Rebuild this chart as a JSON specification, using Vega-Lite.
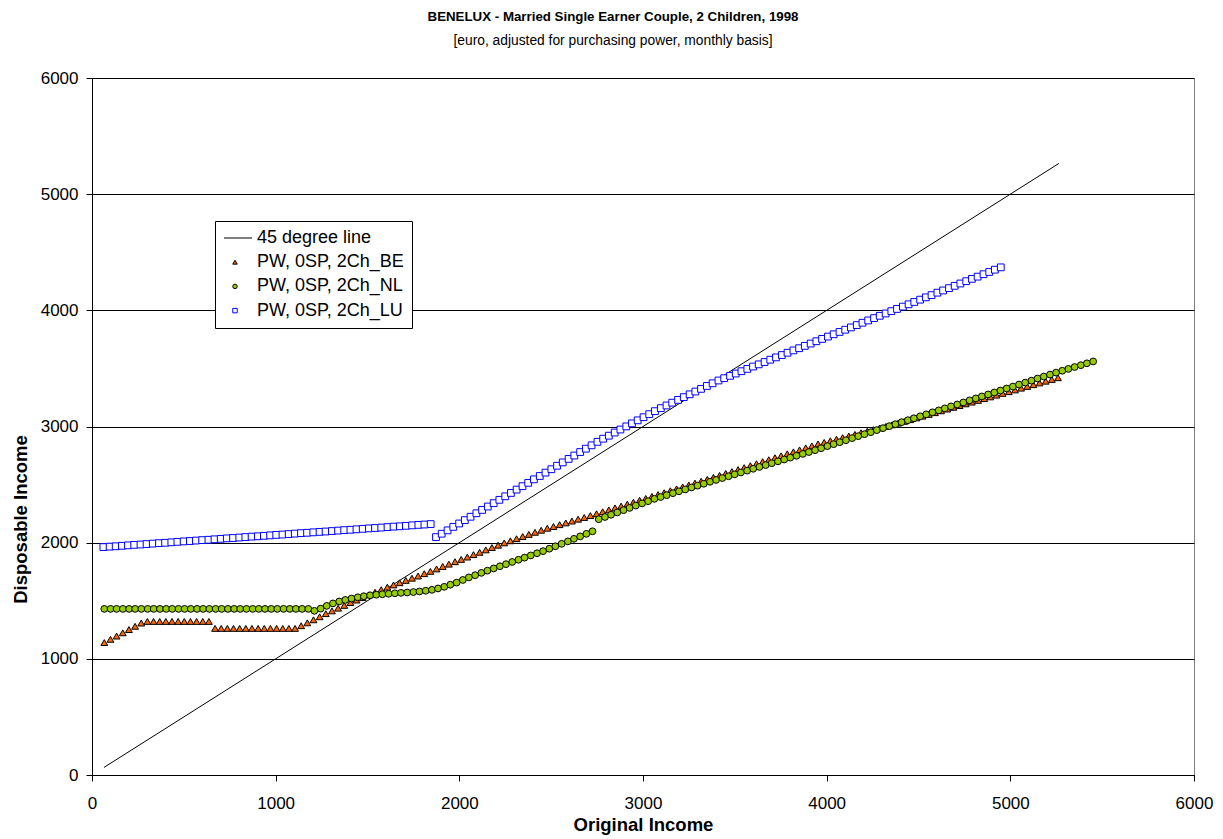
{
"$schema":"https://vega.github.io/schema/vega-lite/v6.json",
"width":1102,"height":697,
"autosize":{"type":"none"},
"padding":{"left":92,"top":78,"right":29,"bottom":64},
"background":"white",
"title":{"text":"BENELUX - Married Single Earner Couple, 2 Children, 1998","subtitle":"[euro, adjusted for purchasing power, monthly basis]","font":"Liberation Sans","fontSize":13.3,"fontWeight":"bold","color":"black","subtitleFont":"Liberation Sans","subtitleFontSize":13.8,"subtitleColor":"black","subtitlePadding":11,"anchor":"middle","dx":-30,"offset":21},
"config":{"view":{"stroke":"#808080","strokeWidth":1},
 "legend":{"labelFont":"Liberation Sans","labelFontSize":18,"labelColor":"black","symbolSize":20,"symbolStrokeWidth":1,"strokeColor":"black","fillColor":"white","padding":8,"rowPadding":6.2,"labelOffset":13,"symbolOffset":3}},
"layer":[
{"data":{"values":[{"x":65,"y":65},{"x":5264,"y":5264}]},
 "mark":{"type":"line","color":"black","strokeWidth":1},
 "encoding":{"x":{"field":"x","type":"quantitative"},"y":{"field":"y","type":"quantitative"}}},
{"data":{"values":[
{"s":"BE","x":67,"y":1140},{"s":"BE","x":100.5,"y":1168},{"s":"BE","x":134,"y":1196},{"s":"BE","x":167.5,"y":1224},{"s":"BE","x":201,"y":1252},{"s":"BE","x":234.5,"y":1280},{"s":"BE","x":268,"y":1308},{"s":"BE","x":301.5,"y":1322},{"s":"BE","x":335,"y":1322},{"s":"BE","x":368.5,"y":1322},{"s":"BE","x":402,"y":1322},{"s":"BE","x":435.5,"y":1322},{"s":"BE","x":469,"y":1322},{"s":"BE","x":502.5,"y":1322},{"s":"BE","x":536,"y":1322},{"s":"BE","x":569.5,"y":1322},{"s":"BE","x":603,"y":1322},{"s":"BE","x":636.5,"y":1322},
{"s":"BE","x":670,"y":1262},{"s":"BE","x":703.5,"y":1262},{"s":"BE","x":737,"y":1262},{"s":"BE","x":770.5,"y":1262},{"s":"BE","x":804,"y":1262},{"s":"BE","x":837.5,"y":1262},{"s":"BE","x":871,"y":1262},{"s":"BE","x":904.5,"y":1262},{"s":"BE","x":938,"y":1262},{"s":"BE","x":971.5,"y":1262},{"s":"BE","x":1005,"y":1262},{"s":"BE","x":1038.5,"y":1262},{"s":"BE","x":1072,"y":1262},{"s":"BE","x":1105.5,"y":1262},
{"s":"BE","x":1139,"y":1285},{"s":"BE","x":1172.5,"y":1310},{"s":"BE","x":1206,"y":1336},{"s":"BE","x":1239.5,"y":1362},{"s":"BE","x":1273,"y":1389},{"s":"BE","x":1306.5,"y":1413},{"s":"BE","x":1340,"y":1436},{"s":"BE","x":1373.5,"y":1460},{"s":"BE","x":1407,"y":1484},{"s":"BE","x":1440.5,"y":1506},{"s":"BE","x":1474,"y":1528},{"s":"BE","x":1507.5,"y":1551},{"s":"BE","x":1541,"y":1573},{"s":"BE","x":1574.5,"y":1595},{"s":"BE","x":1608,"y":1617},{"s":"BE","x":1641.5,"y":1636},{"s":"BE","x":1675,"y":1655},{"s":"BE","x":1708.5,"y":1675},{"s":"BE","x":1742,"y":1694},{"s":"BE","x":1775.5,"y":1713},{"s":"BE","x":1809,"y":1733},{"s":"BE","x":1842.5,"y":1753},{"s":"BE","x":1876,"y":1774},{"s":"BE","x":1909.5,"y":1795},{"s":"BE","x":1943,"y":1815},{"s":"BE","x":1976.5,"y":1836},{"s":"BE","x":2010,"y":1856},{"s":"BE","x":2043.5,"y":1876},{"s":"BE","x":2077,"y":1897},{"s":"BE","x":2110.5,"y":1917},{"s":"BE","x":2144,"y":1938},{"s":"BE","x":2177.5,"y":1958},{"s":"BE","x":2211,"y":1978},{"s":"BE","x":2244.5,"y":1998},{"s":"BE","x":2278,"y":2016},{"s":"BE","x":2311.5,"y":2034},{"s":"BE","x":2345,"y":2053},{"s":"BE","x":2378.5,"y":2071},{"s":"BE","x":2412,"y":2089},{"s":"BE","x":2445.5,"y":2107},{"s":"BE","x":2479,"y":2124},{"s":"BE","x":2512.5,"y":2139},{"s":"BE","x":2546,"y":2155},{"s":"BE","x":2579.5,"y":2170},{"s":"BE","x":2613,"y":2186},{"s":"BE","x":2646.5,"y":2202},{"s":"BE","x":2680,"y":2217},{"s":"BE","x":2713.5,"y":2233},{"s":"BE","x":2747,"y":2249},{"s":"BE","x":2780.5,"y":2266},{"s":"BE","x":2814,"y":2282},{"s":"BE","x":2847.5,"y":2299},{"s":"BE","x":2881,"y":2315},{"s":"BE","x":2914.5,"y":2332},{"s":"BE","x":2948,"y":2348},{"s":"BE","x":2981.5,"y":2365},{"s":"BE","x":3015,"y":2381},{"s":"BE","x":3048.5,"y":2398},{"s":"BE","x":3082,"y":2414},{"s":"BE","x":3115.5,"y":2430},{"s":"BE","x":3149,"y":2447},{"s":"BE","x":3182.5,"y":2463},{"s":"BE","x":3216,"y":2480},{"s":"BE","x":3249.5,"y":2496},{"s":"BE","x":3283,"y":2513},{"s":"BE","x":3316.5,"y":2529},{"s":"BE","x":3350,"y":2545},{"s":"BE","x":3383.5,"y":2562},{"s":"BE","x":3417,"y":2579},{"s":"BE","x":3450.5,"y":2596},{"s":"BE","x":3484,"y":2612},{"s":"BE","x":3517.5,"y":2629},{"s":"BE","x":3551,"y":2646},{"s":"BE","x":3584.5,"y":2663},{"s":"BE","x":3618,"y":2680},{"s":"BE","x":3651.5,"y":2697},{"s":"BE","x":3685,"y":2714},{"s":"BE","x":3718.5,"y":2731},{"s":"BE","x":3752,"y":2748},{"s":"BE","x":3785.5,"y":2765},{"s":"BE","x":3819,"y":2782},{"s":"BE","x":3852.5,"y":2799},{"s":"BE","x":3886,"y":2816},{"s":"BE","x":3919.5,"y":2833},{"s":"BE","x":3953,"y":2850},{"s":"BE","x":3986.5,"y":2863},{"s":"BE","x":4020,"y":2877},{"s":"BE","x":4053.5,"y":2891},{"s":"BE","x":4087,"y":2904},{"s":"BE","x":4120.5,"y":2918},{"s":"BE","x":4154,"y":2932},{"s":"BE","x":4187.5,"y":2946},{"s":"BE","x":4221,"y":2959},{"s":"BE","x":4254.5,"y":2973},{"s":"BE","x":4288,"y":2987},{"s":"BE","x":4321.5,"y":3000},{"s":"BE","x":4355,"y":3014},{"s":"BE","x":4388.5,"y":3029},{"s":"BE","x":4422,"y":3044},{"s":"BE","x":4455.5,"y":3059},{"s":"BE","x":4489,"y":3074},{"s":"BE","x":4522.5,"y":3089},{"s":"BE","x":4556,"y":3104},{"s":"BE","x":4589.5,"y":3119},{"s":"BE","x":4623,"y":3135},{"s":"BE","x":4656.5,"y":3150},{"s":"BE","x":4690,"y":3165},{"s":"BE","x":4723.5,"y":3180},{"s":"BE","x":4757,"y":3195},{"s":"BE","x":4790.5,"y":3210},{"s":"BE","x":4824,"y":3225},{"s":"BE","x":4857.5,"y":3240},{"s":"BE","x":4891,"y":3255},{"s":"BE","x":4924.5,"y":3270},{"s":"BE","x":4958,"y":3285},{"s":"BE","x":4991.5,"y":3300},{"s":"BE","x":5025,"y":3315},{"s":"BE","x":5058.5,"y":3330},{"s":"BE","x":5092,"y":3345},{"s":"BE","x":5125.5,"y":3360},{"s":"BE","x":5159,"y":3375},{"s":"BE","x":5192.5,"y":3390},{"s":"BE","x":5226,"y":3405},{"s":"BE","x":5259.5,"y":3420},
{"s":"NL","x":67,"y":1430},{"s":"NL","x":101,"y":1430},{"s":"NL","x":134,"y":1430},{"s":"NL","x":168,"y":1430},{"s":"NL","x":202,"y":1430},{"s":"NL","x":235,"y":1430},{"s":"NL","x":269,"y":1430},{"s":"NL","x":303,"y":1430},{"s":"NL","x":336,"y":1430},{"s":"NL","x":370,"y":1430},{"s":"NL","x":404,"y":1430},{"s":"NL","x":437,"y":1430},{"s":"NL","x":471,"y":1430},{"s":"NL","x":504,"y":1430},{"s":"NL","x":538,"y":1430},{"s":"NL","x":572,"y":1430},{"s":"NL","x":605,"y":1430},{"s":"NL","x":639,"y":1430},{"s":"NL","x":673,"y":1430},{"s":"NL","x":706,"y":1430},{"s":"NL","x":740,"y":1430},{"s":"NL","x":774,"y":1430},{"s":"NL","x":807,"y":1430},{"s":"NL","x":841,"y":1430},{"s":"NL","x":875,"y":1430},{"s":"NL","x":908,"y":1430},{"s":"NL","x":942,"y":1430},{"s":"NL","x":976,"y":1430},{"s":"NL","x":1009,"y":1430},{"s":"NL","x":1043,"y":1430},{"s":"NL","x":1077,"y":1430},{"s":"NL","x":1110,"y":1430},{"s":"NL","x":1144,"y":1430},{"s":"NL","x":1178,"y":1430},
{"s":"NL","x":1211,"y":1413},{"s":"NL","x":1245,"y":1432},{"s":"NL","x":1278,"y":1456},{"s":"NL","x":1312,"y":1477},{"s":"NL","x":1346,"y":1494},{"s":"NL","x":1379,"y":1507},{"s":"NL","x":1413,"y":1519},{"s":"NL","x":1447,"y":1530},{"s":"NL","x":1480,"y":1539},{"s":"NL","x":1514,"y":1547},{"s":"NL","x":1548,"y":1552},{"s":"NL","x":1581,"y":1556},{"s":"NL","x":1615,"y":1560},{"s":"NL","x":1649,"y":1564},{"s":"NL","x":1682,"y":1568},{"s":"NL","x":1716,"y":1571},{"s":"NL","x":1750,"y":1575},{"s":"NL","x":1783,"y":1580},{"s":"NL","x":1817,"y":1586},{"s":"NL","x":1851,"y":1594},{"s":"NL","x":1884,"y":1606},{"s":"NL","x":1918,"y":1620},{"s":"NL","x":1951,"y":1638},{"s":"NL","x":1985,"y":1656},{"s":"NL","x":2019,"y":1679},{"s":"NL","x":2052,"y":1701},{"s":"NL","x":2086,"y":1720},{"s":"NL","x":2120,"y":1740},{"s":"NL","x":2153,"y":1759},{"s":"NL","x":2187,"y":1778},{"s":"NL","x":2221,"y":1797},{"s":"NL","x":2254,"y":1815},{"s":"NL","x":2288,"y":1834},{"s":"NL","x":2322,"y":1853},{"s":"NL","x":2355,"y":1871},{"s":"NL","x":2389,"y":1890},{"s":"NL","x":2423,"y":1909},{"s":"NL","x":2456,"y":1927},{"s":"NL","x":2490,"y":1948},{"s":"NL","x":2523,"y":1969},{"s":"NL","x":2557,"y":1990},{"s":"NL","x":2591,"y":2011},{"s":"NL","x":2624,"y":2033},{"s":"NL","x":2658,"y":2054},{"s":"NL","x":2692,"y":2076},{"s":"NL","x":2725,"y":2098},
{"s":"NL","x":2759,"y":2202},{"s":"NL","x":2793,"y":2221},{"s":"NL","x":2826,"y":2240},{"s":"NL","x":2860,"y":2260},{"s":"NL","x":2894,"y":2280},{"s":"NL","x":2927,"y":2299},{"s":"NL","x":2961,"y":2319},{"s":"NL","x":2995,"y":2338},{"s":"NL","x":3028,"y":2357},{"s":"NL","x":3062,"y":2377},{"s":"NL","x":3096,"y":2393},{"s":"NL","x":3129,"y":2409},{"s":"NL","x":3163,"y":2426},{"s":"NL","x":3196,"y":2442},{"s":"NL","x":3230,"y":2458},{"s":"NL","x":3264,"y":2475},{"s":"NL","x":3297,"y":2491},{"s":"NL","x":3331,"y":2507},{"s":"NL","x":3365,"y":2524},{"s":"NL","x":3398,"y":2540},{"s":"NL","x":3432,"y":2556},{"s":"NL","x":3466,"y":2572},{"s":"NL","x":3499,"y":2588},{"s":"NL","x":3533,"y":2604},{"s":"NL","x":3567,"y":2620},{"s":"NL","x":3600,"y":2636},{"s":"NL","x":3634,"y":2652},{"s":"NL","x":3668,"y":2668},{"s":"NL","x":3701,"y":2684},{"s":"NL","x":3735,"y":2700},{"s":"NL","x":3769,"y":2716},{"s":"NL","x":3802,"y":2732},{"s":"NL","x":3836,"y":2748},{"s":"NL","x":3870,"y":2764},{"s":"NL","x":3903,"y":2780},{"s":"NL","x":3937,"y":2796},{"s":"NL","x":3970,"y":2813},{"s":"NL","x":4004,"y":2831},{"s":"NL","x":4038,"y":2848},{"s":"NL","x":4071,"y":2865},{"s":"NL","x":4105,"y":2882},{"s":"NL","x":4139,"y":2900},{"s":"NL","x":4172,"y":2917},{"s":"NL","x":4206,"y":2934},{"s":"NL","x":4240,"y":2951},{"s":"NL","x":4273,"y":2969},{"s":"NL","x":4307,"y":2986},{"s":"NL","x":4341,"y":3003},{"s":"NL","x":4374,"y":3020},{"s":"NL","x":4408,"y":3037},{"s":"NL","x":4442,"y":3054},{"s":"NL","x":4475,"y":3071},{"s":"NL","x":4509,"y":3088},{"s":"NL","x":4542,"y":3105},{"s":"NL","x":4576,"y":3122},{"s":"NL","x":4610,"y":3139},{"s":"NL","x":4643,"y":3156},{"s":"NL","x":4677,"y":3173},{"s":"NL","x":4711,"y":3190},{"s":"NL","x":4744,"y":3207},{"s":"NL","x":4778,"y":3225},{"s":"NL","x":4812,"y":3242},{"s":"NL","x":4845,"y":3259},{"s":"NL","x":4879,"y":3276},{"s":"NL","x":4913,"y":3293},{"s":"NL","x":4946,"y":3310},{"s":"NL","x":4980,"y":3327},{"s":"NL","x":5014,"y":3344},{"s":"NL","x":5047,"y":3361},{"s":"NL","x":5081,"y":3378},{"s":"NL","x":5115,"y":3395},{"s":"NL","x":5148,"y":3413},{"s":"NL","x":5182,"y":3430},{"s":"NL","x":5216,"y":3447},{"s":"NL","x":5249,"y":3464},{"s":"NL","x":5283,"y":3480},{"s":"NL","x":5316,"y":3496},{"s":"NL","x":5350,"y":3512},{"s":"NL","x":5384,"y":3528},{"s":"NL","x":5417,"y":3544},{"s":"NL","x":5451,"y":3560},
{"s":"LU","x":62,"y":1962},{"s":"LU","x":96,"y":1966},{"s":"LU","x":129,"y":1969},{"s":"LU","x":163,"y":1973},{"s":"LU","x":196,"y":1977},{"s":"LU","x":230,"y":1981},{"s":"LU","x":264,"y":1984},{"s":"LU","x":297,"y":1988},{"s":"LU","x":331,"y":1992},{"s":"LU","x":365,"y":1996},{"s":"LU","x":398,"y":1999},{"s":"LU","x":432,"y":2003},{"s":"LU","x":465,"y":2007},{"s":"LU","x":499,"y":2011},{"s":"LU","x":533,"y":2014},{"s":"LU","x":566,"y":2018},{"s":"LU","x":600,"y":2022},{"s":"LU","x":634,"y":2025},{"s":"LU","x":667,"y":2029},{"s":"LU","x":701,"y":2033},{"s":"LU","x":734,"y":2037},{"s":"LU","x":768,"y":2040},{"s":"LU","x":802,"y":2044},{"s":"LU","x":835,"y":2048},{"s":"LU","x":869,"y":2052},{"s":"LU","x":903,"y":2055},{"s":"LU","x":936,"y":2059},{"s":"LU","x":970,"y":2063},{"s":"LU","x":1003,"y":2067},{"s":"LU","x":1037,"y":2070},{"s":"LU","x":1071,"y":2074},{"s":"LU","x":1104,"y":2078},{"s":"LU","x":1138,"y":2082},{"s":"LU","x":1171,"y":2085},{"s":"LU","x":1205,"y":2089},{"s":"LU","x":1239,"y":2093},{"s":"LU","x":1272,"y":2096},{"s":"LU","x":1306,"y":2100},{"s":"LU","x":1340,"y":2104},{"s":"LU","x":1373,"y":2108},{"s":"LU","x":1407,"y":2111},{"s":"LU","x":1440,"y":2115},{"s":"LU","x":1474,"y":2119},{"s":"LU","x":1508,"y":2123},{"s":"LU","x":1541,"y":2126},{"s":"LU","x":1575,"y":2130},{"s":"LU","x":1609,"y":2134},{"s":"LU","x":1642,"y":2138},{"s":"LU","x":1676,"y":2141},{"s":"LU","x":1709,"y":2145},{"s":"LU","x":1743,"y":2149},{"s":"LU","x":1777,"y":2153},{"s":"LU","x":1810,"y":2156},{"s":"LU","x":1844,"y":2160},
{"s":"LU","x":1873,"y":2048},{"s":"LU","x":1904,"y":2077},{"s":"LU","x":1936,"y":2106},{"s":"LU","x":1967,"y":2136},{"s":"LU","x":1999,"y":2165},{"s":"LU","x":2030,"y":2194},{"s":"LU","x":2061,"y":2223},{"s":"LU","x":2093,"y":2253},{"s":"LU","x":2124,"y":2282},{"s":"LU","x":2155,"y":2311},{"s":"LU","x":2187,"y":2340},{"s":"LU","x":2218,"y":2369},{"s":"LU","x":2250,"y":2399},{"s":"LU","x":2281,"y":2428},{"s":"LU","x":2312,"y":2457},{"s":"LU","x":2344,"y":2486},{"s":"LU","x":2375,"y":2515},{"s":"LU","x":2406,"y":2545},{"s":"LU","x":2438,"y":2574},{"s":"LU","x":2469,"y":2603},{"s":"LU","x":2501,"y":2632},{"s":"LU","x":2532,"y":2662},{"s":"LU","x":2563,"y":2691},{"s":"LU","x":2595,"y":2721},{"s":"LU","x":2626,"y":2750},{"s":"LU","x":2658,"y":2780},{"s":"LU","x":2689,"y":2809},{"s":"LU","x":2720,"y":2838},{"s":"LU","x":2752,"y":2868},{"s":"LU","x":2783,"y":2895},{"s":"LU","x":2814,"y":2921},{"s":"LU","x":2846,"y":2948},{"s":"LU","x":2877,"y":2974},{"s":"LU","x":2909,"y":3001},{"s":"LU","x":2940,"y":3027},{"s":"LU","x":2971,"y":3053},{"s":"LU","x":3003,"y":3080},{"s":"LU","x":3034,"y":3106},{"s":"LU","x":3065,"y":3132},{"s":"LU","x":3097,"y":3158},{"s":"LU","x":3128,"y":3181},{"s":"LU","x":3159,"y":3205},{"s":"LU","x":3191,"y":3229},{"s":"LU","x":3222,"y":3253},{"s":"LU","x":3254,"y":3277},{"s":"LU","x":3285,"y":3301},{"s":"LU","x":3316,"y":3324},{"s":"LU","x":3348,"y":3349},{"s":"LU","x":3379,"y":3372},{"s":"LU","x":3411,"y":3396},{"s":"LU","x":3442,"y":3416},{"s":"LU","x":3474,"y":3436},{"s":"LU","x":3505,"y":3456},{"s":"LU","x":3536,"y":3476},{"s":"LU","x":3568,"y":3496},{"s":"LU","x":3599,"y":3516},{"s":"LU","x":3630,"y":3535},{"s":"LU","x":3662,"y":3555},{"s":"LU","x":3693,"y":3575},{"s":"LU","x":3724,"y":3595},{"s":"LU","x":3756,"y":3615},{"s":"LU","x":3787,"y":3635},{"s":"LU","x":3819,"y":3655},{"s":"LU","x":3850,"y":3674},{"s":"LU","x":3881,"y":3694},{"s":"LU","x":3913,"y":3714},{"s":"LU","x":3944,"y":3734},{"s":"LU","x":3975,"y":3754},{"s":"LU","x":4007,"y":3774},{"s":"LU","x":4038,"y":3794},{"s":"LU","x":4070,"y":3814},{"s":"LU","x":4101,"y":3833},{"s":"LU","x":4132,"y":3853},{"s":"LU","x":4164,"y":3873},{"s":"LU","x":4195,"y":3893},{"s":"LU","x":4226,"y":3913},{"s":"LU","x":4258,"y":3933},{"s":"LU","x":4289,"y":3953},{"s":"LU","x":4321,"y":3973},{"s":"LU","x":4352,"y":3993},{"s":"LU","x":4383,"y":4012},{"s":"LU","x":4415,"y":4032},{"s":"LU","x":4446,"y":4052},{"s":"LU","x":4477,"y":4072},{"s":"LU","x":4509,"y":4092},{"s":"LU","x":4540,"y":4112},{"s":"LU","x":4571,"y":4131},{"s":"LU","x":4603,"y":4152},{"s":"LU","x":4634,"y":4171},{"s":"LU","x":4666,"y":4191},{"s":"LU","x":4697,"y":4211},{"s":"LU","x":4728,"y":4231},{"s":"LU","x":4760,"y":4251},{"s":"LU","x":4791,"y":4271},{"s":"LU","x":4822,"y":4290},{"s":"LU","x":4854,"y":4311},{"s":"LU","x":4885,"y":4330},{"s":"LU","x":4916,"y":4350},{"s":"LU","x":4948,"y":4370}
]},
 "mark":{"type":"point","filled":true,"opacity":1,"strokeWidth":1,"size":46},
 "encoding":{
  "x":{"field":"x","type":"quantitative","scale":{"domain":[0,6000],"nice":false,"zero":false},
   "axis":{"title":"Original Income","values":[0,1000,2000,3000,4000,5000,6000],"format":"d","grid":false,"domainColor":"black","tickColor":"black","tickSize":6,"labelFont":"Liberation Sans","labelFontSize":17,"labelColor":"black","labelPadding":14,"labelFlush":false,"labelOverlap":false,"titleFont":"Liberation Sans","titleFontSize":18.5,"titleFontWeight":"bold","titleColor":"black","titlePadding":4}},
  "y":{"field":"y","type":"quantitative","scale":{"domain":[0,6000],"nice":false,"zero":false},
   "axis":{"title":"Disposable  Income","titleY":441,"values":[0,1000,2000,3000,4000,5000,6000],"format":"d","grid":true,"gridColor":"black","gridWidth":1,"gridOpacity":1,"domainColor":"black","tickColor":"black","tickSize":6,"labelFont":"Liberation Sans","labelFontSize":17,"labelColor":"black","labelPadding":8,"labelFlush":false,"labelOverlap":false,"titleFont":"Liberation Sans","titleFontSize":18.5,"titleFontWeight":"bold","titleColor":"black","titlePadding":10}},
  "shape":{"field":"s","type":"nominal","scale":{"domain":["L","BE","NL","LU"],"range":["M-4.9,0H7.6","triangle-up","circle","square"]},
   "legend":{"title":null,"orient":"none","legendX":123,"legendY":143,"labelExpr":"datum.label == 'L' ? '45 degree line' : 'PW, 0SP, 2Ch_' + datum.label"}},
  "fill":{"field":"s","type":"nominal","scale":{"domain":["L","BE","NL","LU"],"range":["transparent","#FF6600","#99CC00","#FFFFFF"]},
   "legend":{"title":null,"orient":"none","legendX":123,"legendY":143,"labelExpr":"datum.label == 'L' ? '45 degree line' : 'PW, 0SP, 2Ch_' + datum.label"}},
  "stroke":{"field":"s","type":"nominal","scale":{"domain":["L","BE","NL","LU"],"range":["#000000","#000000","#000000","#0000FF"]},
   "legend":{"title":null,"orient":"none","legendX":123,"legendY":143,"labelExpr":"datum.label == 'L' ? '45 degree line' : 'PW, 0SP, 2Ch_' + datum.label"}}
 }}
]
}
